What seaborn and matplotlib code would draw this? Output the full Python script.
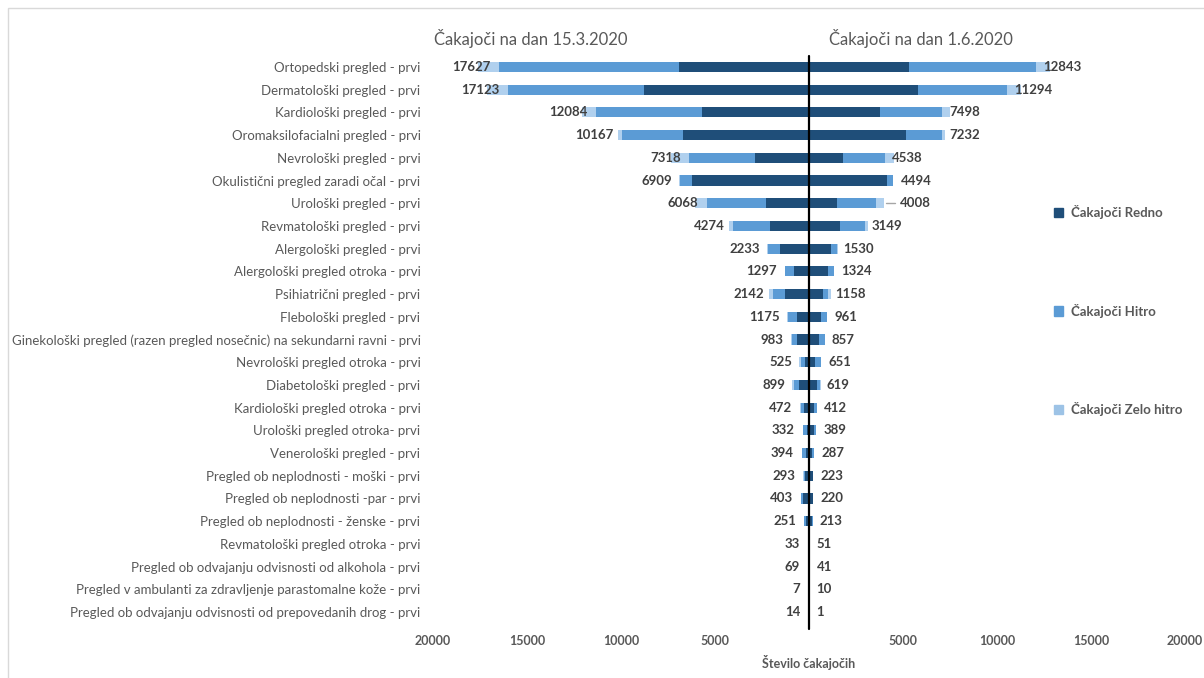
import matplotlib
matplotlib.use("Agg")
import matplotlib.pyplot as plt
import matplotlib.patches as mpatches
from matplotlib.ticker import FuncFormatter
import seaborn as sns
import numpy as np

categories = [
    "Ortopedski pregled - prvi",
    "Dermatološki pregled - prvi",
    "Kardiološki pregled - prvi",
    "Oromaksilofacialni pregled - prvi",
    "Nevrološki pregled - prvi",
    "Okulistični pregled zaradi očal - prvi",
    "Urološki pregled - prvi",
    "Revmatološki pregled - prvi",
    "Alergološki pregled - prvi",
    "Alergološki pregled otroka - prvi",
    "Psihiatrični pregled - prvi",
    "Flebološki pregled - prvi",
    "Ginekološki pregled (razen pregled nosečnic) na sekundarni ravni - prvi",
    "Nevrološki pregled otroka - prvi",
    "Diabetološki pregled - prvi",
    "Kardiološki pregled otroka - prvi",
    "Urološki pregled otroka- prvi",
    "Venerološki pregled - prvi",
    "Pregled ob neplodnosti - moški - prvi",
    "Pregled ob neplodnosti -par - prvi",
    "Pregled ob neplodnosti - ženske - prvi",
    "Revmatološki pregled otroka - prvi",
    "Pregled ob odvajanju odvisnosti od alkohola - prvi",
    "Pregled v ambulanti za zdravljenje parastomalne kože - prvi",
    "Pregled ob odvajanju odvisnosti od prepovedanih drog - prvi",
]

# 15.3.2020 (left side)
left_redno = [6916, 8778, 5676, 6719, 2857, 6240, 2304, 2075, 1543, 798, 1277, 656, 621,
              213, 514, 250, 120, 140, 230, 330, 180, 10, 45, 7, 14]
left_hitro = [9560, 7252, 5656, 3245, 3511, 623, 3138, 1952, 622, 461, 656, 461, 283,
              230, 284, 200, 200, 240, 60, 70, 70, 20, 20, 0, 0]
left_zelo = [1151, 1093, 752, 203, 950, 46, 626, 247, 68, 38, 209, 58, 79,
             82, 101, 22, 12, 14, 3, 3, 1, 3, 4, 0, 0]

# 1.6.2020 (right side)
right_redno = [5320, 5800, 3761, 5144, 1809, 4150, 1506, 1649, 1170, 993, 727, 656, 550,
               302, 408, 280, 250, 180, 200, 200, 150, 20, 30, 10, 1]
right_hitro = [6756, 4734, 3315, 1932, 2218, 344, 2076, 1330, 302, 331, 302, 305, 284,
               349, 177, 132, 139, 107, 23, 20, 63, 30, 10, 0, 0]
right_zelo = [767, 760, 422, 156, 511, 0, 426, 170, 58, 0, 129, 0, 23,
              0, 34, 0, 0, 0, 0, 0, 0, 1, 1, 0, 0]

series_names = ["Čakajoči Redno", "Čakajoči Hitro", "Čakajoči Zelo hitro"]
titles = ["Čakajoči na dan 15.3.2020", "Čakajoči na dan 1.6.2020"]
x_label = "Število čakajočih"
x_ticks = [-20000, -15000, -10000, -5000, 0, 5000, 10000, 15000, 20000]

c_dark = "#1F4E79"
c_mid = "#5B9BD5"
c_light = "#B0D0EE"
txt = "#595959"
num_col = "#404040"

sns.set_theme(style="white")
plt.rcParams["font.family"] = ["Lato", "DejaVu Sans"]

W, H = 1204, 678
fig = plt.figure(figsize=(W / 100, H / 100), dpi=100)
ax = fig.add_axes([433 / W, 1 - 623.4 / H, 752 / W, 567.8 / H])

lr = np.array(left_redno); lh = np.array(left_hitro); lz = np.array(left_zelo)
rr = np.array(right_redno); rh = np.array(right_hitro); rz = np.array(right_zelo)
ltot = lr + lh + lz
rtot = rr + rh + rz

bw = 0.45
for vals, col in [(-ltot, c_light), (-(lr + lh), c_mid), (-lr, c_dark),
                  (rtot, c_light), (rr + rh, c_mid), (rr, c_dark)]:
    sns.barplot(x=vals, y=categories, orient="h", color=col, saturation=1,
                width=bw, ax=ax, linewidth=0)

ax.set_xlim(-20000, 20000)
ax.set_ylim(len(categories) - 0.5, -0.5)
ax.axvline(0, color="black", lw=1.6, ymin=-0.01, ymax=1.0, clip_on=False, zorder=5)

# value labels (anchored at the end of the "Hitro" segment, as in the original)
for i in range(len(categories)):
    lt, rt = ltot[i], rtot[i]
    ax.annotate(f"{lt}", xy=(-(lr[i] + lh[i]), i), xytext=(-6, 0), textcoords="offset points",
                ha="right", va="center", fontsize=9.5, fontweight="bold", color=num_col,
                zorder=6)
    if i == 6:
        ax.annotate(f"{rt}", xy=(rt, i), xytext=(11, 0), textcoords="offset points",
                    ha="left", va="center", fontsize=9.5, fontweight="bold", color=num_col,
                    zorder=6)
        ax.plot([rt + 100, rt + 580], [i, i], color="#A6A6A6", lw=1)
    else:
        ax.annotate(f"{rt}", xy=(rr[i] + rh[i], i), xytext=(5, 0), textcoords="offset points",
                    ha="left", va="center", fontsize=9.5, fontweight="bold", color=num_col,
                    zorder=6)

ax.set_xticks(x_ticks)
ax.xaxis.set_major_formatter(FuncFormatter(lambda v, p: "" if v == 0 else f"{abs(int(v))}"))
ax.tick_params(axis="x", length=0, pad=8, labelsize=9, labelcolor=txt)
ax.tick_params(axis="y", length=0, pad=9, labelsize=9.5, labelcolor=txt)
for lab in ax.get_xticklabels():
    lab.set_fontweight("bold")
ax.set_ylabel("")
ax.set_xlabel(x_label, fontsize=9, color=txt, fontweight="bold", labelpad=6)
for s in ax.spines.values():
    s.set_visible(False)
ax.grid(False)

# titles
fig.text(531 / W, 1 - 38 / H, titles[0], ha="center", va="center", fontsize=12, color=txt)
fig.text(921 / W, 1 - 38 / H, titles[1], ha="center", va="center", fontsize=12, color=txt)

# legend
handles = [mpatches.Patch(color=c) for c in (c_dark, c_mid, "#9DC3E6")]
leg = fig.legend(handles, series_names, loc="upper left",
                 bbox_to_anchor=(1042 / W, 1 - 193 / H), frameon=False,
                 handlelength=0.7, handleheight=0.7, handletextpad=0.6,
                 labelspacing=6.42, prop={"size": 9.5, "weight": "bold"})
for t in leg.get_texts():
    t.set_color(txt)

# frame border
fig.add_artist(mpatches.Rectangle((8 / W, -0.1), 1.2, 1 - 8 / H + 0.1,
                                  transform=fig.transFigure, fill=False,
                                  edgecolor="#D9D9D9", lw=1))

fig.savefig("out.png", dpi=100)
